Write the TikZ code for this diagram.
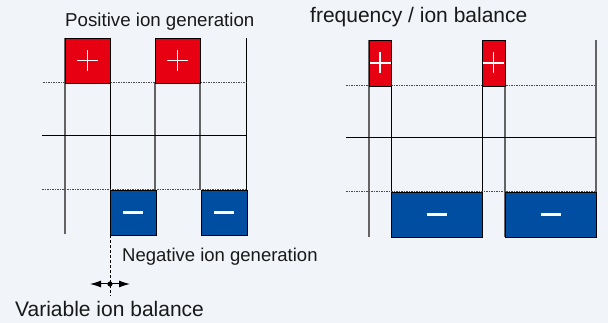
\documentclass[tikz,border=0pt]{standalone}
\usepackage{fontspec}
\setmainfont{Liberation Sans}
\usetikzlibrary{arrows.meta}
\definecolor{bgc}{RGB}{241,244,248}
\definecolor{ired}{RGB}{230,0,18}
\definecolor{iblue}{RGB}{0,78,162}
\definecolor{glin}{RGB}{100,100,100}
\begin{document}
\begin{tikzpicture}[x=1pt,y=-1pt,
  grid/.style={line width=1pt,black},
  gline/.style={line width=1.2pt,glin},
  dotline/.style={line width=1pt,black!70,dash pattern=on 1.5pt off 1pt},
  plusbox/.style={draw=black,line width=0.9pt,fill=ired,inner sep=0pt,outer sep=0pt,anchor=north west,
    path picture={\draw[white,line width=1.9pt]
      ([xshift=-10.5pt]path picture bounding box.center) -- ([xshift=10.5pt]path picture bounding box.center)
      ([yshift=-10.5pt]path picture bounding box.center) -- ([yshift=10.5pt]path picture bounding box.center);}},
  minusbox/.style={draw=black,line width=0.9pt,fill=iblue,inner sep=0pt,outer sep=0pt,anchor=north west,
    path picture={\draw[white,line width=3.4pt]
      ([xshift=-10pt]path picture bounding box.center) -- ([xshift=10pt]path picture bounding box.center);}},
  tip/.style={-{Latex[length=11pt,width=7pt]},line width=1pt},
  lbl/.style={anchor=base west,inner sep=0pt,text=black!90}]
\fill[bgc] (0,0) rectangle (608,323);
\useasboundingbox (0,0) rectangle (608,323);

% ---------- left panel ----------
\node[lbl,font=\fontsize{18.7}{20}\selectfont] (t1) at (65,27) {Positive ion generation};
% grid lines
\draw[gline] (65,38) -- (65,234);
\draw[gline] (155,83) -- (155,190);
\draw[gline] (200,83) -- (200,190);
\draw[grid] (110,38) -- (110,190);
\draw[grid] (246,38) -- (246,190);
\draw[dotline] (43,83) -- (246,83);
\draw[grid] (42,136) -- (246,136);
\draw[dotline] (42,190) -- (246,190);
% boxes
\node[plusbox,minimum width=45pt,minimum height=45pt] (p1) at (65,38) {};
\node[plusbox,minimum width=45pt,minimum height=45pt] (p2) at (155,38) {};
\node[minusbox,minimum width=46pt,minimum height=45pt] (m1) at (110,190) {};
\node[minusbox,minimum width=46pt,minimum height=45pt] (m2) at (201,190) {};
% dashed marker and arrow
\coordinate (dend) at (110,296);
\draw[line width=0.9pt,dash pattern=on 3pt off 2pt] (m1.south west) -- (dend);
\coordinate (al) at (90,284);
\coordinate (ar) at (130,284);
\coordinate (ac) at (110,284);
\draw[tip] (ac) -- (al);
\draw[tip] (ac) -- (ar);
\fill (ac) circle (2.6pt);
\node[lbl,font=\fontsize{18.5}{20}\selectfont] (t2) at (122,261.5) {Negative ion generation};
\node[lbl,font=\fontsize{21}{23}\selectfont] (t3) at (15,316.5) {Variable ion balance};

% ---------- right panel ----------
\node[lbl,font=\fontsize{21}{23}\selectfont] (t4) at (310,22.5) {frequency / ion balance};
\draw[gline] (369,40) -- (369,237);
\draw[gline] (505,86) -- (505,237);
\draw[gline] (596,40) -- (596,237);
\draw[grid] (391,40) -- (391,192);
\draw[grid] (482,40) -- (482,192);
\draw[dotline] (346,86) -- (596,86);
\draw[grid] (346,138) -- (596,138);
\draw[dotline] (346,192) -- (596,192);
\node[plusbox,minimum width=22pt,minimum height=46pt] (p3) at (369,40) {};
\node[plusbox,minimum width=23pt,minimum height=46pt] (p4) at (482,40) {};
\node[minusbox,minimum width=91pt,minimum height=45pt] (m3) at (391,192) {};
\node[minusbox,minimum width=91pt,minimum height=45pt] (m4) at (505,192) {};
\end{tikzpicture}
\end{document}
